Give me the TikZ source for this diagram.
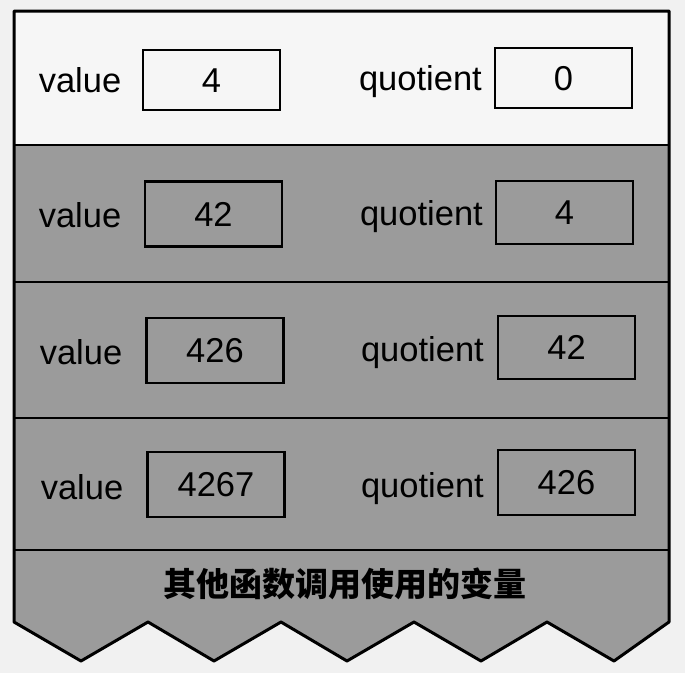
\documentclass[tikz,border=0pt]{standalone}
\usepackage{fontspec}
\setmainfont{Liberation Sans}
\newfontfamily\cjk{Noto Sans CJK SC}
\definecolor{pagebg}{HTML}{F1F1F1}
\definecolor{toprow}{HTML}{F6F6F6}
\definecolor{stackgray}{HTML}{9B9B9B}
\begin{document}
\begin{tikzpicture}[x=1pt,y=-1pt,
  frameline/.style={line width=3pt,line join=round},
  divider/.style={line width=2.4pt},
  txt/.style={inner sep=0pt,text height=24.7pt,text depth=0pt,font=\fontsize{34.5}{38}\selectfont},
  valbox/.style={txt,draw,line width=2.6pt,minimum width=137pt,minimum height=63pt},
  lbl/.style={txt},
  qlbl/.style={txt,anchor=east}]
\useasboundingbox (0,0) rectangle (685,673);
\fill[pagebg] (0,0) rectangle (685,673);
% stack body
\fill[stackgray] (14,145) -- (669,145) -- (669,622) -- (614,661) -- (547,622) -- (481,661) -- (414,622) -- (347,661) -- (281,622) -- (214,661) -- (148,622) -- (81,661) -- (14,622) -- cycle;
\fill[toprow] (14,11) rectangle (669,145);
\draw[frameline] (14,11) -- (669,11) -- (669,622) -- (614,661) -- (547,622) -- (481,661) -- (414,622) -- (347,661) -- (281,622) -- (214,661) -- (148,622) -- (81,661) -- (14,622) -- cycle;
\foreach \yy in {145,282,418,550} \draw[divider] (14,\yy) -- (669,\yy);
% row 1
\node[lbl] (v1l) at (80,80) {value};
\node[valbox,minimum height=60pt] (v1) at (211.5,80) {4};
\node[qlbl] (q1l) at (482,78) {quotient};
\node[valbox,minimum height=60pt] (q1) at (563.5,78) {0};
% row 2
\node[lbl] (v2l) at (80,215) {value};
\node[valbox,minimum height=65pt] (v2) at (213.5,214) {42};
\node[qlbl] (q2l) at (483,213) {quotient};
\node[valbox] (q2) at (564.5,212.5) {4};
% row 3
\node[lbl] (v3l) at (81,352) {value};
\node[valbox,minimum height=65pt] (v3) at (215,350.5) {426};
\node[qlbl] (q3l) at (484,349) {quotient};
\node[valbox] (q3) at (566.5,347.5) {42};
% row 4
\node[lbl] (v4l) at (82,487) {value};
\node[valbox,minimum height=65pt] (v4) at (216,484.5) {4267};
\node[qlbl] (q4l) at (484,485) {quotient};
\node[valbox,minimum height=65pt] (q4) at (566.5,482.5) {426};
% bottom label
\node[inner sep=0pt,font=\cjk\bfseries\fontsize{33}{36}\selectfont] (other) at (345,584) {其他函数调用使用的变量};
\end{tikzpicture}
\end{document}
